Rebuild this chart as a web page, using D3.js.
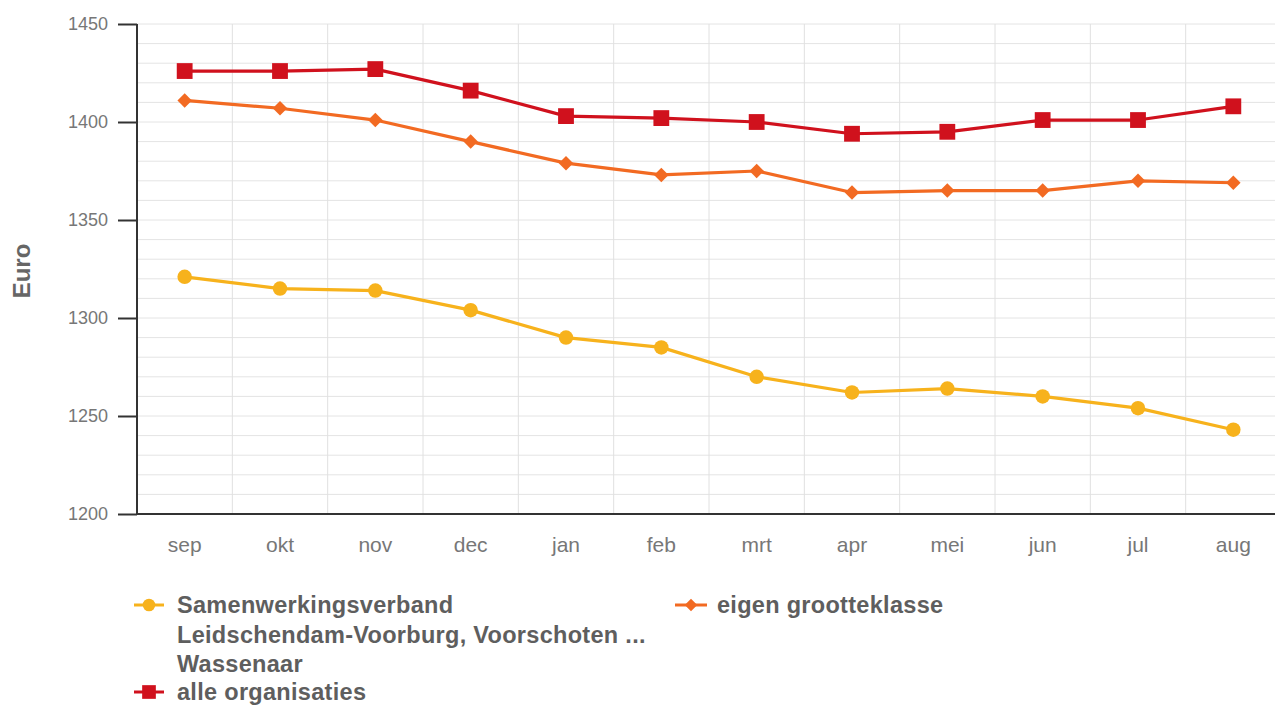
<!DOCTYPE html>
<html><head><meta charset="utf-8">
<script src="https://cdn.jsdelivr.net/npm/d3@7"></script>
<style>
html,body{margin:0;padding:0;background:#fff;overflow:hidden;}
svg{display:block;font-family:"Liberation Sans",Arial,sans-serif;}
</style></head>
<body>
<svg id="chart" width="1275" height="705"></svg>
<script>
const categories = ["sep","okt","nov","dec","jan","feb","mrt","apr","mei","jun","jul","aug"];
const samenwerkingsverband = [1321,1315,1314,1304,1290,1285,1270,1262,1264,1260,1254,1243];
const eigenGrootteklasse = [1411,1407,1401,1390,1379,1373,1375,1364,1365,1365,1370,1369];
const alleOrganisaties = [1426,1426,1427,1416,1403,1402,1400,1394,1395,1401,1401,1408];
const yTicks = [1200,1250,1300,1350,1400,1450];
const yLabel = "Euro";
const seriesNames = ["Samenwerkingsverband Leidschendam-Voorburg, Voorschoten ... Wassenaar","eigen grootteklasse","alle organisaties"];

(function(){
const svg = d3.select("#chart");
const pL = 137, pR = 1281, pT = 24, pB = 514;
const x = d3.scaleBand().domain(categories).range([pL, pR]);
const y = d3.scaleLinear().domain([1200,1450]).range([pB, pT]);

const grid = svg.append("g");
grid.selectAll("line.h").data(d3.range(1200,1451,10)).join("line")
  .attr("x1", pL).attr("x2", pR)
  .attr("y1", d=>y(d)).attr("y2", d=>y(d))
  .attr("stroke", "#e4e4e4").attr("stroke-width", 1);
grid.selectAll("line.v").data(categories.slice(1)).join("line")
  .attr("x1", d=>x(d)).attr("x2", d=>x(d))
  .attr("y1", pT).attr("y2", pB)
  .attr("stroke", "#e0e0e0").attr("stroke-width", 1);

const yAxis = svg.append("g").attr("transform", `translate(${pL},0)`)
  .call(d3.axisLeft(y).tickValues(yTicks).tickSize(19).tickPadding(10).tickFormat(d3.format("d")));
yAxis.select(".domain").attr("stroke", "#333").attr("stroke-width", 2).attr("d", `M0,${pT}V${pB}`);
yAxis.selectAll(".tick line").attr("stroke", "#333").attr("stroke-width", 2);
yAxis.selectAll(".tick text").attr("fill", "#777").style("font-size", "18px");

const xAxis = svg.append("g").attr("transform", `translate(0,${pB})`)
  .call(d3.axisBottom(x).tickSize(0).tickPadding(23));
xAxis.select(".domain").attr("stroke", "#333").attr("stroke-width", 2).attr("d", `M${pL},0H${pR}`);
xAxis.selectAll(".tick text").attr("fill", "#777").style("font-size", "21px");

svg.append("text").attr("transform", "translate(30,271) rotate(-90)")
  .attr("text-anchor", "middle").attr("fill", "#666").style("font-size", "24px").style("font-weight", "bold")
  .text(yLabel);

const cx = d => x(d) + x.bandwidth()/2;
const series = [
  {name: seriesNames[0], values: samenwerkingsverband, color: "#f7b21c", sym: d3.symbolCircle, size: 165, rot: 0},
  {name: seriesNames[1], values: eigenGrootteklasse, color: "#f26a22", sym: d3.symbolSquare, size: 105, rot: 45},
  {name: seriesNames[2], values: alleOrganisaties, color: "#d0111d", sym: d3.symbolSquare, size: 250, rot: 0}
];
const line = d3.line().x((d,i)=>cx(categories[i])).y(d=>y(d));
series.forEach(s => {
  const g = svg.append("g");
  g.append("path").attr("d", line(s.values)).attr("fill", "none")
    .attr("stroke", s.color).attr("stroke-width", 3.2).attr("stroke-linejoin", "round");
  g.selectAll("path.m").data(s.values).join("path")
    .attr("transform", (d,i)=>`translate(${cx(categories[i])},${y(d)}) rotate(${s.rot})`)
    .attr("d", d3.symbol().type(s.sym).size(s.size)).attr("fill", s.color);
});

const legendItems = [
  {s: series[0], x: 134, y: 605, w: 30, lines: ["Samenwerkingsverband","Leidschendam-Voorburg, Voorschoten ...","Wassenaar"]},
  {s: series[1], x: 675, y: 605, w: 32, lines: ["eigen grootteklasse"]},
  {s: series[2], x: 134, y: 692, w: 30, lines: ["alle organisaties"]}
];
legendItems.forEach(it => {
  const g = svg.append("g").attr("transform", `translate(${it.x},${it.y})`);
  g.append("line").attr("x1", 0).attr("x2", it.w).attr("y1", 0).attr("y2", 0)
    .attr("stroke", it.s.color).attr("stroke-width", 3);
  g.append("path").attr("transform", `translate(${it.w/2},0) rotate(${it.s.rot})`)
    .attr("d", d3.symbol().type(it.s.sym).size(it.s.size*0.75)).attr("fill", it.s.color);
  const tx = it.x === 675 ? 42 : 43;
  const t = g.append("text").attr("x", tx).attr("y", 8).attr("fill", "#5e5e5e")
    .style("font-size", "23.5px").style("font-weight", "bold").style("letter-spacing", "0.3px");
  it.lines.forEach((l,i)=> t.append("tspan").attr("x", tx).attr("dy", i===0?0:29.5).text(l));
});
})();
</script>
</body></html>
